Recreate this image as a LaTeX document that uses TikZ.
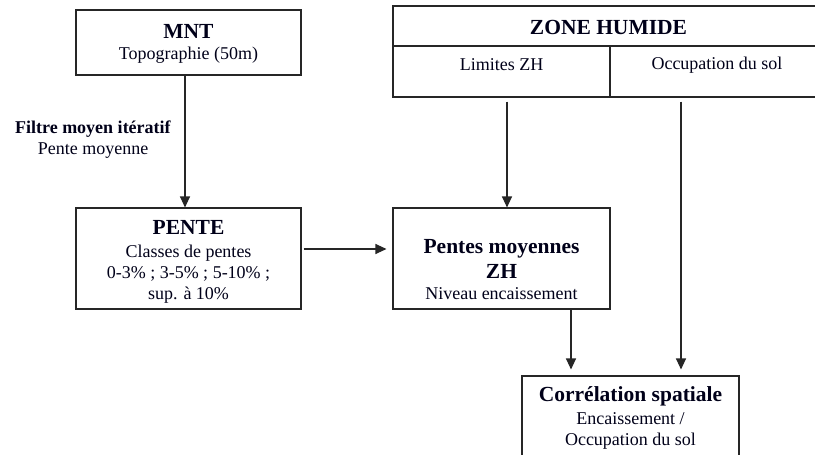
\documentclass[tikz,border=0pt]{standalone}
\usepackage{fontspec}
\setmainfont{Liberation Serif}
\usetikzlibrary{arrows.meta}
\begin{document}
\begin{tikzpicture}[x=1pt,y=-1pt,
  box/.style={draw=black!85,line width=1.1pt,rectangle,inner sep=0pt},
  txt/.style={align=center,font=\fontsize{18}{21}\selectfont,inner sep=0pt,text=black!90!blue},
  ttl/.style={font=\fontsize{21.5}{24}\selectfont\bfseries},
  arr/.style={draw=black!85,line width=1.1pt,-{Triangle[length=11pt,width=10pt]}}]
\clip (0,0) rectangle (815,455);
\fill[white] (0,0) rectangle (815,455);
% boxes
\node[box,minimum width=225pt,minimum height=65pt] (mnt) at (188.5,42.5) {};
\node[box,minimum width=225pt,minimum height=101pt] (pente) at (188.5,258.5) {};
\node[box,minimum width=217pt,minimum height=101pt] (pm) at (501.5,258.5) {};
\node[box,minimum width=431pt,minimum height=40pt] (zh) at (608.5,26) {};
\node[box,minimum width=217pt,minimum height=51pt] (lim) at (501.5,71.5) {};
\node[box,minimum width=214pt,minimum height=51pt] (occ) at (717,71.5) {};
\node[box,minimum width=217pt,minimum height=100pt] (corr) at (630.5,426) {};
% texts
\node[txt] (mntt) at (188.5,44) {{\fontsize{21.5}{24}\selectfont\bfseries MNT}\\Topographie (50m)};
\node[txt] (pentet) at (188.5,261.5) {{\fontsize{21.5}{24}\selectfont\bfseries PENTE}\\[2pt]Classes de pentes\\0-3\% ; 3-5\% ; 5-10\% ;\\sup. à 10\%};
\node[txt] (pmt) at (501.5,270) {{\fontsize{21.5}{24}\selectfont\bfseries Pentes moyennes}\\[4pt]{\fontsize{21.5}{24}\selectfont\bfseries ZH}\\Niveau encaissement};
\node[txt,ttl] (zht) at (608.5,27) {ZONE HUMIDE};
\node[txt] (limt) at (501.5,65) {Limites ZH};
\node[txt] (occt) at (717,65) {Occupation du sol};
\node[txt] (corrt) at (630.5,418) {{\fontsize{21.5}{24}\selectfont\bfseries Corrélation spatiale}\\[2pt]Encaissement /\\Occupation du sol};
\node[txt] (filt) at (93,140) {\textbf{Filtre moyen itératif}\\Pente moyenne};
% arrows
\draw[arr] ([xshift=-3.5pt]mnt.south) -- ([xshift=-3.5pt]pente.north);
\draw[arr,shorten <=2pt,shorten >=6pt] ([yshift=9.5pt]pente.east) -- ([yshift=9.5pt]pm.west);
\draw[arr,shorten <=4pt] ([xshift=5.5pt]lim.south) -- ([xshift=5.5pt]pm.north);
\draw[arr,shorten <=4pt,shorten >=6pt] ([xshift=-36pt]occ.south) -- ([xshift=-36pt]occ.south |- corr.north);
\draw[arr,shorten >=6pt] ([xshift=69.5pt]pm.south) -- ([xshift=69.5pt]pm.south |- corr.north);
\end{tikzpicture}
\end{document}
